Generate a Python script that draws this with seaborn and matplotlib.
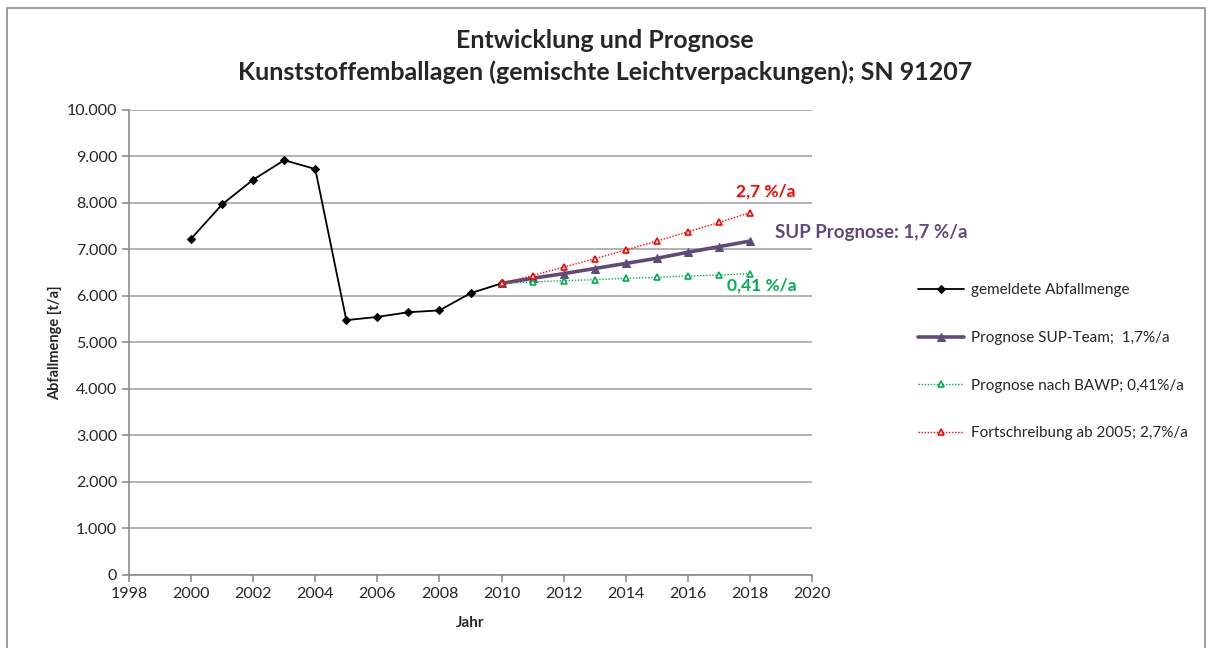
import numpy as np
import pandas as pd
import matplotlib
matplotlib.use("Agg")
import matplotlib.pyplot as plt
import seaborn as sns
from matplotlib.ticker import FuncFormatter

# gemeldete Abfallmenge
jahre_ist = [2000, 2001, 2002, 2003, 2004, 2005, 2006, 2007, 2008, 2009, 2010]
menge_ist = [7230, 7970, 8500, 8920, 8730, 5480, 5550, 5650, 5690, 6060, 6270]

# Prognosen 2010-2018
jahre_prog = [2010, 2011, 2012, 2013, 2014, 2015, 2016, 2017, 2018]
sup_team = [6270, 6380, 6480, 6590, 6700, 6810, 6940, 7060, 7180]
bawp = [6270, 6300, 6330, 6350, 6380, 6400, 6430, 6450, 6480]
fortschreibung = [6270, 6440, 6620, 6800, 6990, 7180, 7380, 7580, 7790]

labels = ["gemeldete Abfallmenge", "Prognose SUP-Team;  1,7%/a",
          "Prognose nach BAWP; 0,41%/a", "Fortschreibung ab 2005; 2,7%/a"]

sns.set_style("white")
plt.rcParams['font.family'] = ['Lato', 'DejaVu Sans']

fig = plt.figure(figsize=(12.1, 6.48), dpi=100)
ax = fig.add_axes([0.1066, 0.1127, 0.5645, 0.7176])

# Rahmen um das Diagramm
fig.patches.append(plt.Rectangle((0.006, -0.01), 0.99, 0.998, transform=fig.transFigure,
                                 fill=False, edgecolor="#8c8c8c", linewidth=1.2))

df_ist = pd.DataFrame({"Jahr": jahre_ist, "Menge": menge_ist})
sns.lineplot(data=df_ist, x="Jahr", y="Menge", ax=ax, color="black", linewidth=1.3,
             marker="D", markersize=4, markeredgecolor="black", label=labels[0])

df_sup = pd.DataFrame({"Jahr": jahre_prog, "Menge": sup_team})
sns.lineplot(data=df_sup, x="Jahr", y="Menge", ax=ax, color="#604A7B", linewidth=2.6,
             marker="^", markersize=6, markeredgecolor="#604A7B", label=labels[1])

df_bawp = pd.DataFrame({"Jahr": jahre_prog, "Menge": bawp})
sns.lineplot(data=df_bawp, x="Jahr", y="Menge", ax=ax, color="#00B050", linewidth=1.0,
             linestyle=(0, (1, 1.2)), marker="^", markersize=5, markerfacecolor="white",
             markeredgecolor="#00B050", markeredgewidth=1.2, label=labels[2])

df_fort = pd.DataFrame({"Jahr": jahre_prog, "Menge": fortschreibung})
sns.lineplot(data=df_fort, x="Jahr", y="Menge", ax=ax, color="#FF0000", linewidth=1.0,
             linestyle=(0, (1, 1.2)), marker="^", markersize=5, markerfacecolor="white",
             markeredgecolor="#FF0000", markeredgewidth=1.2, label=labels[3])

ax.set_xlim(1998, 2020)
ax.set_ylim(0, 10000)
ax.set_xticks(np.arange(1998, 2021, 2))
ax.set_yticks(np.arange(0, 10001, 1000))
ax.yaxis.set_major_formatter(FuncFormatter(lambda v, p: f"{int(v):,}".replace(",", ".")))
ax.grid(axis="y", color="#a6a6a6", linewidth=1.2)
ax.set_axisbelow(True)
for s in ["top", "right"]:
    ax.spines[s].set_visible(False)
for s in ["left", "bottom"]:
    ax.spines[s].set_color("#8c8c8c")
    ax.spines[s].set_linewidth(1.2)
ax.tick_params(axis="both", labelsize=11.5, direction="out", length=5, color="#8c8c8c",
               width=1.2, left=True, bottom=True)

ax.set_xlabel("Jahr", fontsize=11, fontweight="bold", labelpad=11)
ax.set_ylabel("Abfallmenge [t/a]", fontsize=10.5, fontweight="bold", labelpad=3)

fig.text(0.5, 0.938, "Entwicklung und Prognose", ha="center", va="center",
         fontsize=18, fontweight="bold")
fig.text(0.5, 0.888, "Kunststoffemballagen (gemischte Leichtverpackungen); SN 91207",
         ha="center", va="center", fontsize=18, fontweight="bold")

ax.text(2017.55, 8250, "2,7 %/a", color="#FF0000", fontsize=12.5, fontweight="bold", va="center")
ax.text(2018.8, 7355, "SUP Prognose: 1,7 %/a", color="#604A7B", fontsize=13.5,
        fontweight="bold", va="center")
ax.text(2017.26, 6220, "0,41 %/a", color="#00B050", fontsize=12.5, fontweight="bold", va="center")

ax.legend(loc="upper left", bbox_to_anchor=(1.146, 0.64), frameon=False, fontsize=11,
          labelspacing=2.2, handlelength=3.0, handletextpad=0.45, borderaxespad=0)

fig.savefig("out.png", dpi=100)
